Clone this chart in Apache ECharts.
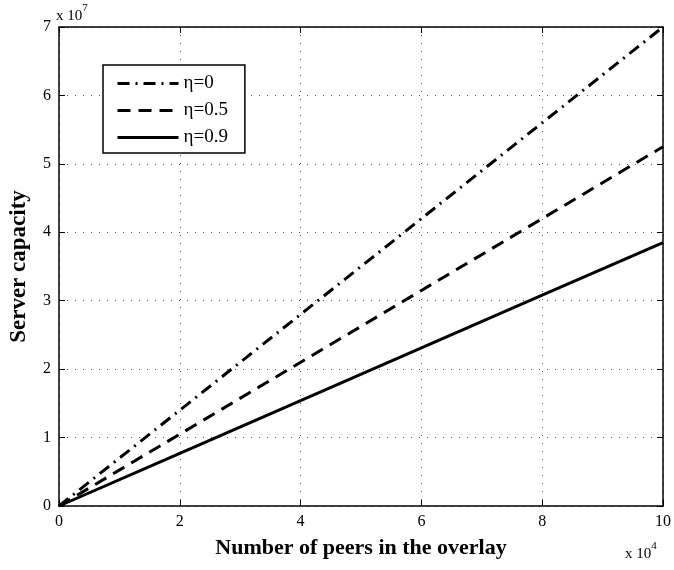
<!DOCTYPE html>
<html>
<head>
<meta charset="utf-8">
<script src="https://cdn.jsdelivr.net/npm/echarts@6/dist/echarts.min.js"></script>
<style>
  html, body { margin: 0; padding: 0; background: #fff; }
  #chart { width: 674px; height: 570px; }
</style>
</head>
<body>
<div id="chart"></div>
<script>
// Number of peers (x 10^4)
var peers = [0, 2, 4, 6, 8, 10];
// Server capacity (x 10^7) for each eta
var capEta0 = [0, 1.4, 2.8, 4.2, 5.6, 7.0];
var capEta05 = [0, 1.05, 2.1, 3.15, 4.2, 5.25];
var capEta09 = [0, 0.77, 1.54, 2.31, 3.08, 3.85];
var seriesNames = ['\u03b7=0', '\u03b7=0.5', '\u03b7=0.9'];

var FONT = 'Liberation Serif';

function pairs(xs, ys) {
  return xs.map(function (x, i) { return [x, ys[i]]; });
}

function gridLine() {
  return { show: true, lineStyle: { color: '#555', width: 1, type: [1, 7] } };
}
function axisLine() {
  return { show: true, onZero: false, lineStyle: { color: '#000', width: 1.5 } };
}
function tick() {
  return { show: true, inside: true, length: 6, lineStyle: { color: '#000', width: 1 } };
}
function tickLabel() {
  return { margin: 8, fontFamily: FONT, fontSize: 16, color: '#000' };
}

var chart = echarts.init(document.getElementById('chart'), null, { renderer: 'canvas' });

var option = {
  animation: false,
  backgroundColor: '#fff',
  grid: { left: 56, right: 10.5, top: 27, bottom: 64, containLabel: false },
  xAxis: [
    {
      type: 'value', min: 0, max: 10, interval: 2, position: 'bottom',
      axisLine: axisLine(), axisTick: tick(), splitLine: gridLine(),
      axisLabel: tickLabel(),
      name: 'Number of peers in the overlay', nameLocation: 'middle', nameGap: 31,
      nameTextStyle: { fontFamily: FONT, fontSize: 22, fontWeight: 'bold', color: '#000' }
    },
    {
      type: 'value', min: 0, max: 10, interval: 2, position: 'top',
      axisLine: axisLine(), axisTick: tick(), splitLine: { show: false },
      axisLabel: { show: false }
    }
  ],
  yAxis: [
    {
      type: 'value', min: 0, max: 7, interval: 1, position: 'left',
      axisLine: axisLine(), axisTick: tick(), splitLine: gridLine(),
      axisLabel: tickLabel(),
      name: 'Server capacity', nameLocation: 'middle', nameGap: 28,
      nameTextStyle: { fontFamily: FONT, fontSize: 23, fontWeight: 'bold', color: '#000' }
    },
    {
      type: 'value', min: 0, max: 7, interval: 1, position: 'right',
      axisLine: axisLine(), axisTick: tick(), splitLine: { show: false },
      axisLabel: { show: false }
    }
  ],
  legend: {
    orient: 'vertical',
    left: 103, top: 65,
    padding: [9, 17, 6, 13],
    itemGap: 8,
    itemWidth: 61, itemHeight: 14,
    itemTextGap: 6,
    itemStyle: { opacity: 0 },
    lineStyle: { width: 3 },
    backgroundColor: '#fff',
    borderColor: '#000', borderWidth: 1.5, borderRadius: 0,
    textStyle: { fontFamily: FONT, fontSize: 19, lineHeight: 19, color: '#000' },
    data: seriesNames
  },
  series: [
    {
      name: seriesNames[0], type: 'line', data: pairs(peers, capEta0),
      symbol: 'none', lineStyle: { color: '#000', width: 3, type: [12, 6, 2, 6] }
    },
    {
      name: seriesNames[1], type: 'line', data: pairs(peers, capEta05),
      symbol: 'none', lineStyle: { color: '#000', width: 3, type: [13, 8] }
    },
    {
      name: seriesNames[2], type: 'line', data: pairs(peers, capEta09),
      symbol: 'none', lineStyle: { color: '#000', width: 3, type: 'solid' }
    }
  ],
  graphic: [
    {
      type: 'text', left: 56, top: 3,
      style: {
        text: '{b|x 10}{s|7}',
        rich: {
          b: { fontFamily: FONT, fontSize: 15, color: '#000', padding: [6, 0, 0, 0] },
          s: { fontFamily: FONT, fontSize: 11, color: '#000', verticalAlign: 'top' }
        }
      }
    },
    {
      type: 'text', left: 625, top: 541,
      style: {
        text: '{b|x 10}{s|4}',
        rich: {
          b: { fontFamily: FONT, fontSize: 15, color: '#000', padding: [6, 0, 0, 0] },
          s: { fontFamily: FONT, fontSize: 11, color: '#000', verticalAlign: 'top' }
        }
      }
    }
  ]
};

chart.setOption(option);
</script>
</body>
</html>
